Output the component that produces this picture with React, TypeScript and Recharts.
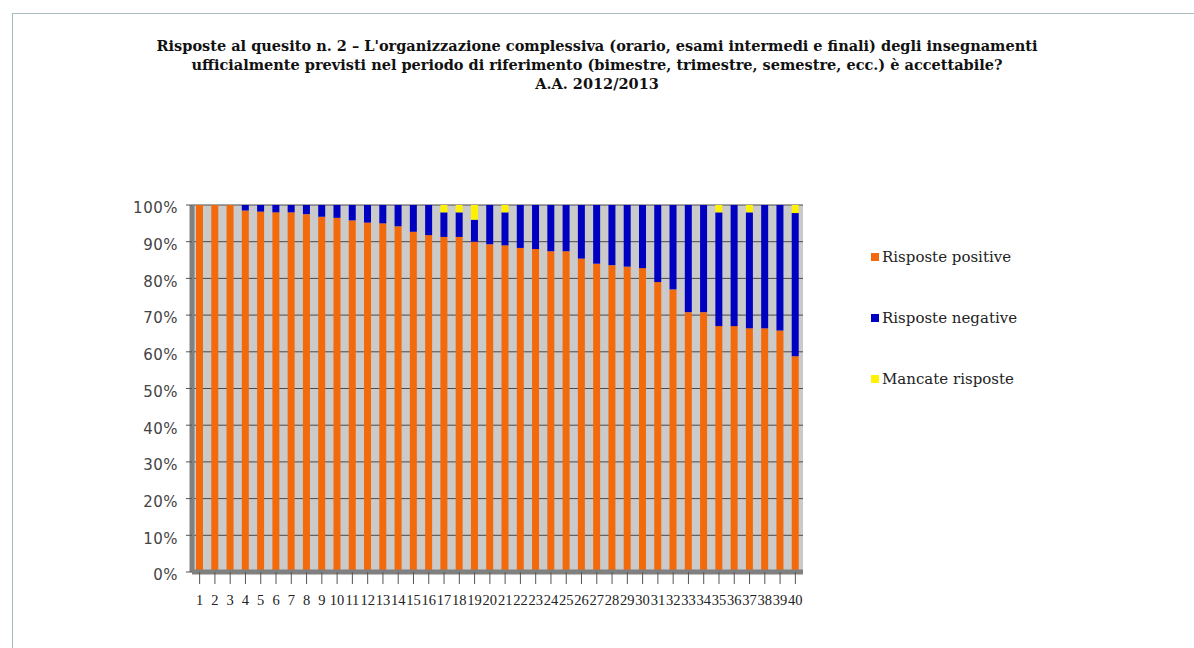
import React from "react";
import {
  BarChart,
  Bar,
  XAxis,
  YAxis,
  CartesianGrid,
} from "recharts";

const CATEGORIES = Array.from({ length: 40 }, (_, i) => String(i + 1));

const POSITIVE = [
  100, 100, 100, 98.5, 98.2, 98, 98, 97.5, 96.8, 96.5,
  95.8, 95.2, 95, 94.2, 92.7, 91.8, 91.3, 91.3, 90, 89.3,
  89, 88.3, 88, 87.4, 87.4, 85.4, 84, 83.6, 83.2, 82.8,
  79, 77, 70.8, 70.8, 67, 67, 66.4, 66.4, 65.8, 58.8,
];

const MISSING = [
  0, 0, 0, 0, 0, 0, 0, 0, 0, 0,
  0, 0, 0, 0, 0, 0, 2, 2, 4, 0,
  2, 0, 0, 0, 0, 0, 0, 0, 0, 0,
  0, 0, 0, 0, 2, 0, 2, 0, 0, 2.2,
];

const Y_TICKS = [0, 10, 20, 30, 40, 50, 60, 70, 80, 90, 100];

const SERIES = [
  { key: "pos", name: "Risposte positive", color: "#F26A0C" },
  { key: "neg", name: "Risposte negative", color: "#0000C0" },
  { key: "miss", name: "Mancate risposte", color: "#FFF200" },
];

const TITLE = [
  "Risposte al quesito n. 2 \u2013 L'organizzazione complessiva (orario, esami intermedi e finali) degli insegnamenti",
  "ufficialmente previsti nel periodo di riferimento (bimestre, trimestre, semestre, ecc.) \u00e8 accettabile?",
  "A.A. 2012/2013",
];

const data = CATEGORIES.map((c, i) => ({
  name: c,
  pos: POSITIVE[i],
  neg: +(100 - POSITIVE[i] - MISSING[i]).toFixed(2),
  miss: MISSING[i],
}));

const SERIF = "'DejaVu Serif', 'Liberation Serif', serif";
const NARROW_SERIF = "'Liberation Serif', serif";
const SANS = "'DejaVu Sans', sans-serif";

export default function App() {
  return (
    <div
      style={{
        position: "absolute",
        left: 0,
        top: 0,
        width: 1194,
        height: 648,
        background: "#fff",
        fontFamily: SERIF,
        overflow: "hidden",
      }}
    >
      <div
        style={{
          position: "absolute",
          left: 12,
          top: 13,
          right: 0,
          bottom: 0,
          borderTop: "1px solid #A9BCC4",
          borderLeft: "1px solid #A9BCC4",
        }}
      />
      <div
        style={{
          position: "absolute",
          left: 0,
          width: 1194,
          top: 36,
          textAlign: "center",
          fontWeight: "bold",
          fontSize: 14.5,
          lineHeight: "19px",
          color: "#111",
          fontFamily: SERIF,
        }}
      >
        {TITLE.map((t) => (
          <div key={t}>{t}</div>
        ))}
      </div>

      <div style={{ position: "absolute", left: 0, top: 0 }}>
        <BarChart
          width={1194}
          height={648}
          data={data}
          margin={{ top: 205, right: 391, left: 132, bottom: 38 }}
          barSize={7}
        >
          <CartesianGrid
            vertical={false}
            stroke='#4A4A4A'
            fill='#CACACA'
            fillOpacity={1}
          />
          <XAxis
            dataKey='name'
            interval={0}
            tick={{ fill: "#222", fontSize: 14.5, fontFamily: NARROW_SERIF, dy: 9 }}
            tickLine={{ stroke: "#555" }}
            axisLine={{ stroke: "#808080", strokeWidth: 5 }}
            tickSize={12}
            height={38}
          />
          <YAxis
            domain={[0, 100]}
            ticks={Y_TICKS}
            tickFormatter={(v) => `${v}%`}
            tick={{
              fill: "#444",
              fontSize: 15,
              fontFamily: SANS,
              dx: -6,
              dy: 3,
              letterSpacing: 0.5,
            }}
            tickLine={{ stroke: "#555" }}
            axisLine={{ stroke: "#808080", strokeWidth: 5 }}
            width={60}
          />
          {SERIES.map((s) => (
            <Bar
              key={s.key}
              dataKey={s.key}
              name={s.name}
              stackId='a'
              fill={s.color}
              isAnimationActive={false}
            />
          ))}
        </BarChart>
      </div>

      <div style={{ position: "absolute", left: 871, top: 248 }}>
        {SERIES.map((s, i) => (
          <div
            key={s.key}
            style={{
              position: "absolute",
              top: i * 61,
              left: 0,
              display: "flex",
              alignItems: "center",
              whiteSpace: "nowrap",
              fontSize: 15,
              fontFamily: SERIF,
              color: "#222",
            }}
          >
            <span
              style={{
                display: "inline-block",
                width: 8,
                height: 8,
                background: s.color,
                marginRight: 3,
              }}
            />
            {s.name}
          </div>
        ))}
      </div>
    </div>
  );
}
